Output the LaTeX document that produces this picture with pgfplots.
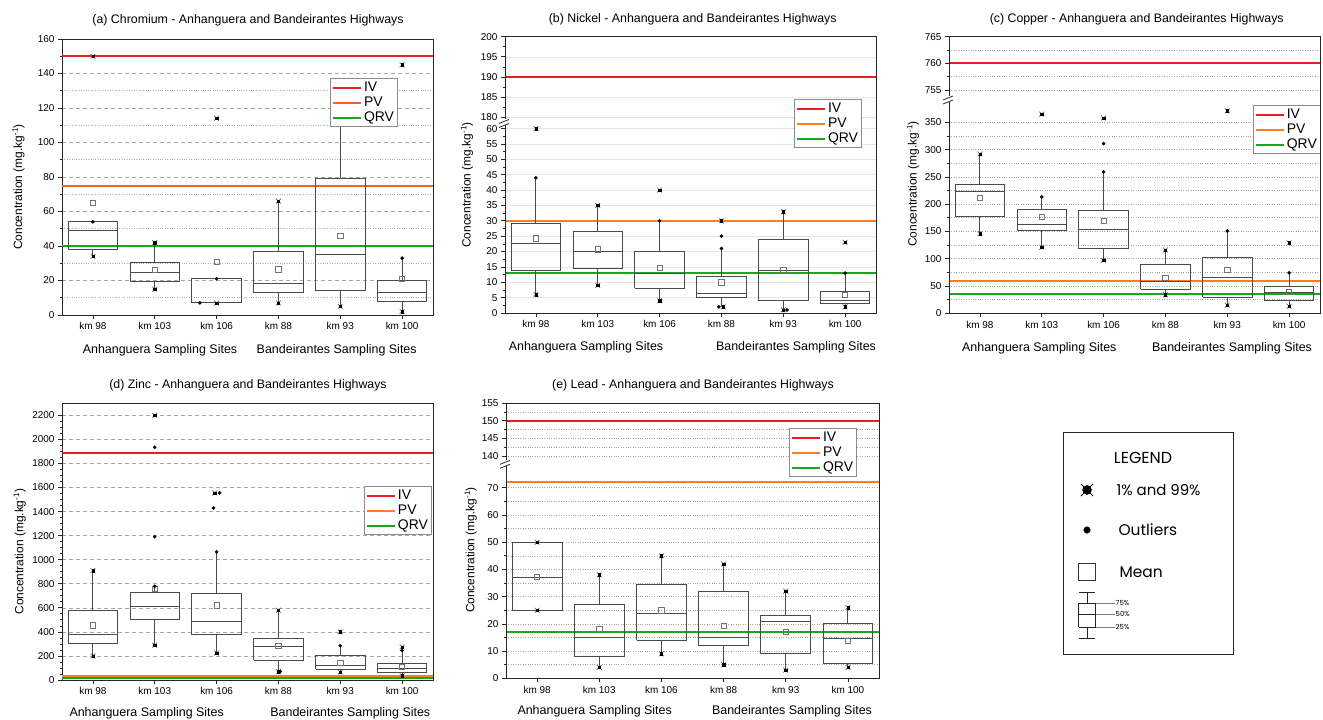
\documentclass[border=0pt]{standalone}
\usepackage{fontspec}
\setmainfont{Liberation Sans}
\newfontfamily\legfont{Poppins}
\usepackage{pgfplots}
\pgfplotsset{compat=1.18}
\definecolor{ivc}{RGB}{237,28,36}
\definecolor{pvc}{RGB}{255,125,30}
\definecolor{pvca}{RGB}{255,95,30}
\definecolor{qrvc}{RGB}{30,165,30}
\definecolor{boxc}{RGB}{75,75,75}
\pgfplotsset{
  base/.style={scale only axis, anchor=south west, width=371bp, xmin=0.5, xmax=6.5,
    tick align=outside, ytick pos=left, xtick pos=bottom,
    xtick={1,2,3,4,5,6}, xticklabels={km 98,km 103,km 106,km 88,km 93,km 100},
    tick label style={font=\fontsize{10}{10}\selectfont},
    /pgf/number format/assume math mode=true,
    /pgf/number format/set thousands separator={},
    axis line style={black!85, line width=0.9bp},
    major tick length=4bp, minor tick length=2.5bp,
    tick style={black!85, line width=0.7bp},
    legend image code/.code={\draw[##1] (0bp,0bp) -- (28bp,0bp);},
    legend style={draw=black!45, line width=1bp, fill=white, font=\fontsize{14}{15}\selectfont, inner sep=1.5bp, anchor=north west, cells={anchor=west}},
  },
  lower/.style={base, separate axis lines, axis line style={draw=none}},
  upper/.style={base, separate axis lines, axis line style={draw=none}, xtick=\empty},
  ivl/.style={ivc, line width=2bp},
  pvl/.style={pvc, line width=2bp},
  pval/.style={pvca, line width=2bp},
  qrvl/.style={qrvc, line width=2bp},
  boxst/.style={boxc, line width=0.9bp, mark=none},
  meanst/.style={only marks, mark=square, mark size=2.6bp, mark options={draw=black!55, line width=0.7bp}},
  starx/.style={only marks, mark=x, mark size=3.4bp, mark options={draw=black!60, line width=0.7bp}},
  starc/.style={only marks, mark=square*, mark size=1.2bp, black},
  dotst/.style={only marks, mark=*, mark size=1.6bp, black},
  dashgrid/.style={major grid style={black!35, dash pattern=on 4bp off 3bp, line width=0.6bp}, minor grid style={black!30, dotted, line width=0.6bp}},
  dotgrid/.style={major grid style={black!35, dotted, line width=0.6bp}, minor grid style={black!35, dotted, line width=0.6bp}},
}
\newcommand{\xl}[1]{\ifcase#1\or0.6\or1.6\or2.6\or3.6\or4.6\or5.6\fi}
\newcommand{\xr}[1]{\ifcase#1\or1.4\or2.4\or3.4\or4.4\or5.4\or6.4\fi}
\newcommand{\bx}[6]{%
  \addplot[boxst] coordinates {(\xl{#1},#3) (\xr{#1},#3) (\xr{#1},#5) (\xl{#1},#5) (\xl{#1},#3)};
  \addplot[boxst] coordinates {(\xl{#1},#4) (\xr{#1},#4)};
  \addplot[boxst] coordinates {(#1,#5) (#1,#6)};
  \addplot[boxst] coordinates {(#1,#2) (#1,#3)};}
\newcommand{\means}[1]{\addplot[meanst] coordinates {#1};}
\newcommand{\stars}[1]{\addplot[starx] coordinates {#1};\addplot[starc] coordinates {#1};}
\newcommand{\outl}[1]{\addplot[dotst] coordinates {#1};}
\newcommand{\lgd}[1]{\addlegendimage{ivl}\addlegendentry{IV}\addlegendimage{#1}\addlegendentry{PV}\addlegendimage{qrvl}\addlegendentry{QRV}}
\newcommand{\brk}[2]{\fill[white] (#1bp-1.6bp,#2bp-3bp) rectangle (#1bp+1.6bp,#2bp+3bp);
  \draw[black!85, line width=0.8bp] (#1bp-6bp,#2bp-5bp) -- (#1bp+4bp,#2bp-1bp);
  \draw[black!85, line width=0.8bp] (#1bp-6bp,#2bp-1bp) -- (#1bp+4bp,#2bp+3bp);}
\newcommand{\frm}[4]{\draw[black!85, line width=0.9bp] (#1bp,#2bp) rectangle (#3bp,#4bp);}
\newcommand{\ttl}[3]{\node[font=\fontsize{12.4}{12.4}\selectfont] at (#1bp,#2bp) {#3};}
\newcommand{\ylab}[2]{\node[rotate=90, font=\fontsize{12}{12}\selectfont] at (#1bp,#2bp) {Concentration (mg.kg\textsuperscript{-1})};}
\newcommand{\grp}[4]{\node[font=\fontsize{12.5}{12.5}\selectfont] at (#1bp,#3bp) {Anhanguera Sampling Sites};\node[font=\fontsize{12.5}{12.5}\selectfont] at (#2bp,#4bp) {Bandeirantes Sampling Sites};}
\begin{document}
\begin{tikzpicture}
\path[use as bounding box] (0,0) rectangle (1323bp,720bp);
% ---------- (a) Chromium ----------
\begin{axis}[base, at={(62bp,405bp)}, height=276bp, ymin=0, ymax=160, ytick={0,20,...,160}, minor y tick num=1,
  ymajorgrids, yminorgrids, dashgrid, legend style={at={(rel axis cs:0.7224,0.8587)}}]
\lgd{pval}
\addplot[ivl] coordinates {(0.5,150) (6.5,150)};
\addplot[pval] coordinates {(0.5,75) (6.5,75)};
\addplot[qrvl] coordinates {(0.5,40) (6.5,40)};
\bx{1}{34}{38}{49}{54}{54}
\bx{2}{15}{19.5}{24.5}{30.5}{42}
\bx{3}{7}{7}{7}{21}{21}
\bx{4}{7}{13}{18}{37}{66}
\bx{5}{5}{14}{35}{79}{125}
\bx{6}{2}{8}{13}{20}{33}
\means{(1,65) (2,26) (3,31) (4,26.5) (5,46) (6,21)}
\stars{(1,150) (1,34) (2,42) (2,15) (3,114) (3,7) (4,66) (4,7) (5,125) (5,5) (6,145) (6,2)}
\outl{(1,54) (2.73,7) (3,21) (6,33)}
\end{axis}
\ttl{248}{699.3}{(a) Chromium - Anhanguera and Bandeirantes Highways}
\ylab{18.5}{533}
\grp{160}{336.7}{370}{370}
% ---------- (b) Nickel ----------
\begin{axis}[upper, at={(505bp,597.5bp)}, height=85.8bp, ymin=178.7, ymax=200, ytick={180,185,...,200}, minor y tick num=1,
  ymajorgrids, major grid style={black!10, line width=0.6bp}]
\addplot[ivl] coordinates {(0.5,190) (6.5,190)};
\end{axis}
\begin{axis}[lower, at={(505bp,407bp)}, height=190.5bp, ymin=0, ymax=62, ytick={0,5,...,60}, minor y tick num=1,
  ymajorgrids, major grid style={black!10, line width=0.6bp}, legend style={at={(rel axis cs:0.779,1.123)}}]
\lgd{pvl}
\addplot[pvl] coordinates {(0.5,30) (6.5,30)};
\addplot[qrvl] coordinates {(0.5,13) (6.5,13)};
\bx{1}{6}{14}{22.5}{29}{44}
\bx{2}{9}{14.5}{20}{26.5}{35}
\bx{3}{4}{8}{13}{20}{30}
\bx{4}{2}{5}{6.5}{12}{21}
\bx{5}{1}{4}{14}{24}{33}
\bx{6}{2}{3}{4}{7}{13}
\means{(1,24.3) (2,20.7) (3,14.8) (4,10) (5,14) (6,6)}
\stars{(1,60) (1,6) (2,35) (2,9) (3,40) (3,4) (4,30) (4.03,2) (5,33) (5,1) (6,23) (6,2)}
\outl{(1,44) (3,30) (4,21) (4,25) (3.96,2) (5.06,1) (6,13)}
\end{axis}
\frm{505}{407}{876}{683.3}
\brk{505}{597.5}
\ttl{692.7}{701}{(b) Nickel - Anhanguera and Bandeirantes Highways}
\ylab{467}{535}
\grp{586}{796}{373}{373}
% ---------- (c) Copper ----------
\begin{axis}[upper, at={(949bp,621bp)}, height=62.3bp, ymin=753.3, ymax=765, ytick={755,760,765}, minor y tick num=1,
  ymajorgrids, yminorgrids, dotgrid]
\addplot[ivl] coordinates {(0.5,760) (6.5,760)};
\end{axis}
\begin{axis}[lower, at={(949bp,406.7bp)}, height=214.3bp, ymin=0, ymax=392.7, ytick={0,50,...,350}, minor y tick num=1,
  ymajorgrids, yminorgrids, dotgrid, legend style={at={(rel axis cs:0.819,0.972)}}]
\lgd{pvl}
\addplot[pvl] coordinates {(0.5,60) (6.5,60)};
\addplot[qrvl] coordinates {(0.5,35) (6.5,35)};
\bx{1}{146}{178}{223}{236}{292}
\bx{2}{121}{151}{162}{191}{213}
\bx{3}{97}{118}{153}{189}{259}
\bx{4}{34}{44}{58}{90}{116}
\bx{5}{15}{29}{66}{102}{151}
\bx{6}{13}{23}{38}{50}{74}
\means{(1,212) (2,176) (3,170) (4,65) (5,80) (6,40)}
\stars{(1,292) (1,146) (2,365) (2,121) (3,358) (3,97) (4,116) (4,34) (5,371) (5,15) (6,129) (6,13)}
\outl{(2,213) (3,259) (3,311) (5,151) (6,74)}
\end{axis}
\frm{949}{406.7}{1320}{683.3}
\brk{949}{621}
\ttl{1136.7}{701}{(c) Copper - Anhanguera and Bandeirantes Highways}
\ylab{913}{536}
\grp{1039.3}{1232}{371.7}{371.7}
% ---------- (d) Zinc ----------
\begin{axis}[base, at={(62bp,40bp)}, height=276.7bp, ymin=0, ymax=2300, ytick={0,200,...,2200}, minor y tick num=3,
  ymajorgrids, dashgrid, legend style={at={(rel axis cs:0.814,0.701)}}]
\lgd{pvl}
\addplot[ivl] coordinates {(0.5,1890) (6.5,1890)};
\addplot[qrvl] coordinates {(0.5,18) (6.5,18)};
\addplot[pvl] coordinates {(0.5,30) (6.5,30)};
\bx{1}{200}{305}{375}{580}{910}
\bx{2}{290}{500}{615}{730}{780}
\bx{3}{225}{375}{490}{720}{1065}
\bx{4}{70}{165}{280}{345}{580}
\bx{5}{65}{90}{125}{200}{285}
\bx{6}{35}{60}{95}{140}{245}
\means{(1,455) (2,755) (3,620) (4,285) (5,145) (6,110)}
\stars{(1,910) (1,200) (2,2200) (2,290) (2.97,1555) (3,225) (4,580) (4,70) (5,400) (5,65) (6,275) (6,35)}
\outl{(2,780) (2,1190) (2,1935) (3,1065) (2.95,1430) (3.05,1555) (4.03,70) (5,285) (6,245)}
\end{axis}
\ttl{248}{334.3}{(d) Zinc - Anhanguera and Bandeirantes Highways}
\ylab{19.7}{168.3}
\grp{146.7}{350.3}{6.7}{6.7}
% ---------- (e) Lead ----------
\begin{axis}[upper, at={(506bp,256.7bp)}, width=373bp, height=60bp, ymin=137.9, ymax=155, ytick={140,145,150,155}, minor y tick num=1,
  ymajorgrids, yminorgrids, dotgrid]
\addplot[ivl] coordinates {(0.5,150) (6.5,150)};
\end{axis}
\begin{axis}[lower, at={(506bp,41.7bp)}, width=373bp, height=215bp, ymin=0, ymax=79, ytick={0,10,...,70}, minor y tick num=1,
  ymajorgrids, yminorgrids, dotgrid, legend style={at={(rel axis cs:0.759,1.164)}}]
\lgd{pvl}
\addplot[pvl] coordinates {(0.5,72) (6.5,72)};
\addplot[qrvl] coordinates {(0.5,17) (6.5,17)};
\bx{1}{25}{25}{37}{50}{50}
\bx{2}{4}{8}{15}{27}{38}
\bx{3}{9}{14}{24}{34.5}{45}
\bx{4}{5}{12}{15}{32}{42}
\bx{5}{3}{9}{21}{23}{32}
\bx{6}{4}{5.5}{14.5}{20}{26}
\means{(1,37.3) (2,18.3) (3,25) (4,19.3) (5,17) (6,13.7)}
\stars{(1,50) (1,25) (2,38) (2,4) (3,45) (3,9) (4,42) (4,5) (5,32) (5,3) (6,26) (6,4)}
\end{axis}
\frm{506}{41.7}{879}{316.7}
\brk{506}{256.7}
\ttl{693}{334.3}{(e) Lead - Anhanguera and Bandeirantes Highways}
\ylab{470.7}{170}
\grp{594.7}{792}{8.3}{8.3}
% ---------- overall legend ----------
\begin{axis}[scale only axis, anchor=south west, at={(1063bp,65bp)}, width=170bp, height=222bp,
  xmin=0, xmax=170, ymin=0, ymax=222, xtick=\empty, ytick=\empty,
  axis line style={black!85, line width=1bp}, clip=false]
\addplot[only marks, mark=x, mark size=8.5bp, mark options={black, line width=0.8bp}] coordinates {(24,165)};
\addplot[only marks, mark=*, mark size=4.5bp, black] coordinates {(24,165)};
\addplot[only marks, mark=*, mark size=3.3bp, black] coordinates {(24,125)};
\addplot[only marks, mark=square, mark size=8.5bp, mark options={black!80, line width=0.7bp}] coordinates {(24,83)};
\addplot[black!85, line width=0.8bp] coordinates {(15.5,28) (32.5,28) (32.5,52) (15.5,52) (15.5,28)};
\addplot[black!85, line width=0.8bp] coordinates {(15.5,41) (32.5,41)};
\addplot[black!85, line width=0.8bp] coordinates {(24,52) (24,63)};
\addplot[black!85, line width=0.8bp] coordinates {(16,63) (32,63)};
\addplot[black!85, line width=0.8bp] coordinates {(24,28) (24,17)};
\addplot[black!85, line width=0.8bp] coordinates {(16,17) (32,17)};
\addplot[black!50, line width=0.4bp] coordinates {(32.5,52) (52,52)};
\addplot[black!50, line width=0.4bp] coordinates {(32.5,41) (52,41)};
\addplot[black!50, line width=0.4bp] coordinates {(32.5,28) (52,28)};
\node[font=\legfont\fontsize{16}{16}\selectfont] at (axis cs:80,197) {LEGEND};
\node[anchor=west, font=\legfont\fontsize{15}{15}\selectfont] at (axis cs:50,165) {1\% and 99\%};
\node[anchor=west, font=\legfont\fontsize{15.5}{15.5}\selectfont] at (axis cs:52,125) {Outliers};
\node[anchor=west, font=\legfont\fontsize{15.5}{15.5}\selectfont] at (axis cs:53,83) {Mean};
\node[anchor=west, font=\legfont\fontsize{7}{7}\selectfont, inner sep=0.5bp] at (axis cs:52,52) {75\%};
\node[anchor=west, font=\legfont\fontsize{7}{7}\selectfont, inner sep=0.5bp] at (axis cs:52,41) {50\%};
\node[anchor=west, font=\legfont\fontsize{7}{7}\selectfont, inner sep=0.5bp] at (axis cs:52,28) {25\%};
\end{axis}
\end{tikzpicture}
\end{document}
